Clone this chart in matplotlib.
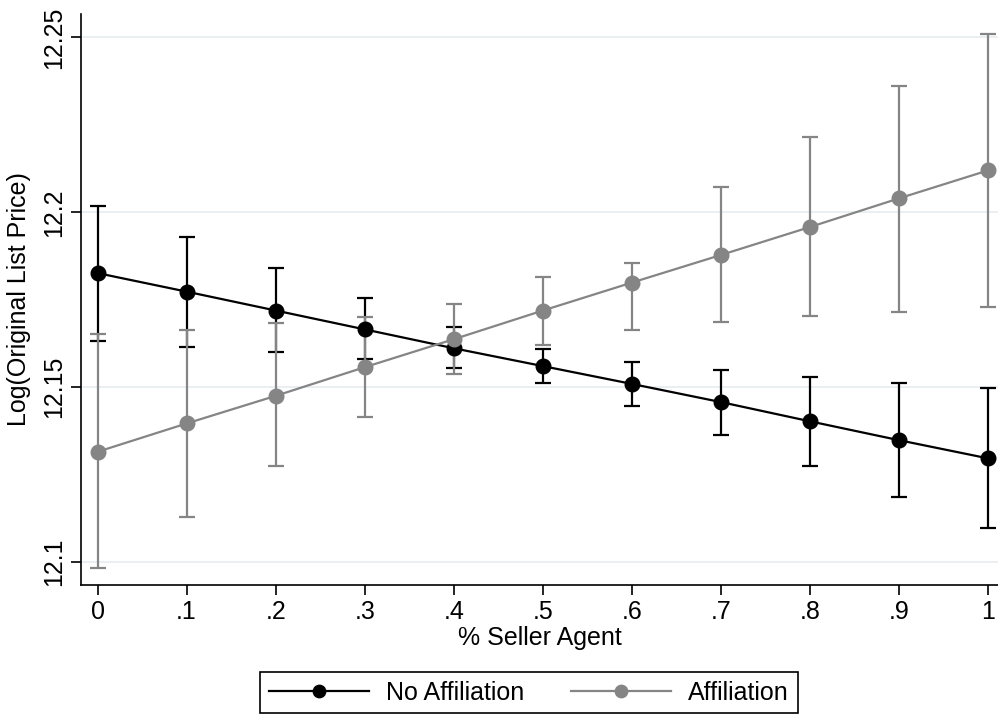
import numpy as np
import matplotlib.pyplot as plt

plt.rcParams['font.family'] = ['Liberation Sans', 'DejaVu Sans']

# % seller agent
pct = [0, .1, .2, .3, .4, .5, .6, .7, .8, .9, 1]
xtick_labels = ['0', '.1', '.2', '.3', '.4', '.5', '.6', '.7', '.8', '.9', '1']

# No Affiliation: margin, lower and upper CI
no_aff = [12.1826, 12.1773, 12.1719, 12.1665, 12.1611, 12.1560, 12.1509, 12.1457, 12.1402, 12.1348, 12.1296]
no_aff_lo = [12.1632, 12.1616, 12.1600, 12.1580, 12.1556, 12.1513, 12.1446, 12.1363, 12.1274, 12.1186, 12.1097]
no_aff_hi = [12.2019, 12.1928, 12.1840, 12.1754, 12.1673, 12.1609, 12.1571, 12.1549, 12.1529, 12.1512, 12.1496]

# Affiliation
aff = [12.1315, 12.1396, 12.1475, 12.1557, 12.1637, 12.1719, 12.1799, 12.1878, 12.1958, 12.2040, 12.2120]
aff_lo = [12.0982, 12.1129, 12.1274, 12.1415, 12.1537, 12.1620, 12.1663, 12.1687, 12.1702, 12.1715, 12.1728]
aff_hi = [12.1651, 12.1663, 12.1682, 12.1701, 12.1738, 12.1814, 12.1855, 12.2072, 12.2214, 12.2362, 12.2510]

yticks = [12.1, 12.15, 12.2, 12.25]
ytick_labels = ['12.1', '12.15', '12.2', '12.25']

gray = '#858585'
fs = 18

fig = plt.figure(figsize=(9.98, 7.21), dpi=100)
ax = fig.add_axes([0.0812, 0.1886, 0.919, 0.792])

for ys, lo, hi, col, lab in [(no_aff, no_aff_lo, no_aff_hi, 'black', 'No Affiliation'),
                              (aff, aff_lo, aff_hi, gray, 'Affiliation')]:
    ys = np.array(ys)
    err = [ys - np.array(lo), np.array(hi) - ys]
    ax.errorbar(pct, ys, yerr=err, fmt='none', ecolor=col, elinewidth=1.6,
                capsize=5.5, capthick=1.6, zorder=2)
    ax.plot(pct, ys, color=col, lw=1.6, marker='o', markersize=10.5,
            label=lab, zorder=3)

ax.set_xlim(-0.0185, 1.011)
ax.set_ylim(12.0934, 12.2567)
ax.set_xticks(pct)
ax.set_xticklabels(xtick_labels, fontsize=fs)
ax.set_yticks(yticks)
ax.set_yticklabels(ytick_labels, fontsize=fs, rotation=90, va='center')
ax.tick_params(direction='out', length=7, width=1.2, pad=4)
ax.grid(axis='y', color='#e6eef0', lw=1.2)
ax.set_axisbelow(True)
for s in ['top', 'right']:
    ax.spines[s].set_visible(False)
for s in ['left', 'bottom']:
    ax.spines[s].set_linewidth(1.2)

ax.set_xlabel('% Seller Agent', fontsize=fs, labelpad=1)
ax.set_ylabel('Log(Original List Price)', fontsize=fs)
ax.yaxis.set_label_coords(-0.055, 0.5)

leg = fig.legend(loc='upper center', bbox_to_anchor=(0.53, 0.068), ncol=2,
                 fontsize=fs, handlelength=4.0, handletextpad=0.68,
                 markerscale=0.85, fancybox=False, edgecolor='black',
                 framealpha=1, columnspacing=1.9, borderpad=0.35,
                 borderaxespad=0)
leg.get_frame().set_linewidth(1.2)

fig.savefig('out.png', dpi=100)
